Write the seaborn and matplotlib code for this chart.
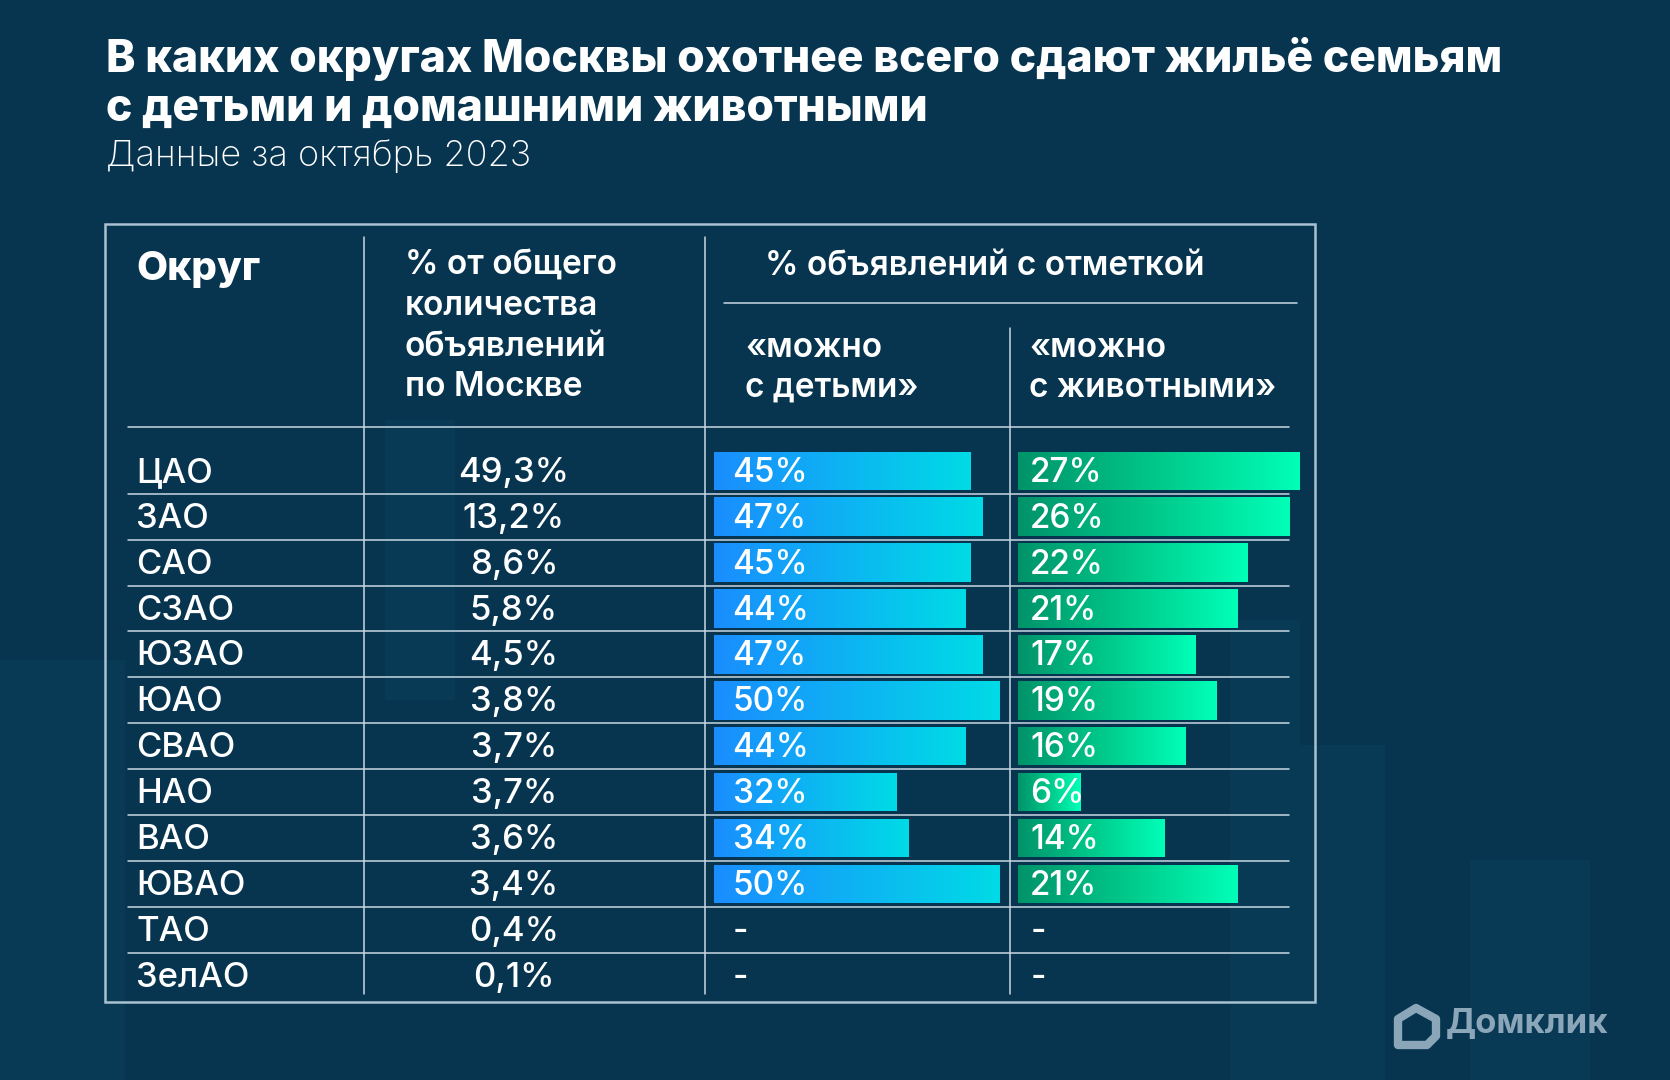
#!/usr/bin/env python3
"""
Table chart: rental listings in Moscow districts that allow kids / pets (Oct 2023).
"""
import numpy as np
import pandas as pd
import matplotlib.pyplot as plt
import seaborn as sns
from matplotlib.colors import LinearSegmentedColormap
from matplotlib.patches import Rectangle, Polygon

# Data
DISTRICTS = ['ЦАО', 'ЗАО', 'САО', 'СЗАО', 'ЮЗАО', 'ЮАО', 'СВАО', 'НАО', 'ВАО', 'ЮВАО', 'ТАО', 'ЗелАО']
SHARE = [49.3, 13.2, 8.6, 5.8, 4.5, 3.8, 3.7, 3.7, 3.6, 3.4, 0.4, 0.1]
KIDS = [45, 47, 45, 44, 47, 50, 44, 32, 34, 50, np.nan, np.nan]
PETS = [27, 26, 22, 21, 17, 19, 16, 6, 14, 21, np.nan, np.nan]

TITLE = ['В каких округах Москвы охотнее всего сдают жильё семьям',
         'с детьми и домашними животными']
SUBTITLE = 'Данные за октябрь 2023'

# Style
W, H = 1670, 1080
BG = '#073550'
LINE = '#c9d8e2'
WHITE = '#ffffff'
BLUE_CMAP = LinearSegmentedColormap.from_list('blue', ['#1a8dff', '#00dbe6'])
GREEN_CMAP = LinearSegmentedColormap.from_list('green', ['#00936a', '#00c98a', '#00ffb8'])
LOGO = '#8ba6b9'

ROW0, ROW_H = 470.8, 45.9
FS_HEAD = 24
FS_ROW = 25
FS_BAR = 24


def fig_rect(x0, y0, x1, y1):
    """Pixel box (top-left origin) -> figure fraction rect."""
    return [x0 / W, 1 - y1 / H, (x1 - x0) / W, (y1 - y0) / H]


def draw_background(ax):
    # faint skyline blocks
    blocks = [(0, 660, 125, H), (385, 420, 455, 700), (1230, 745, 1385, H),
              (1470, 860, 1590, H), (1230, 620, 1300, 745)]
    for x0, y0, x1, y1 in blocks:
        ax.add_patch(Rectangle((x0, y0), x1 - x0, y1 - y0, color='#0d4566', alpha=0.25, lw=0, zorder=0))


def draw_table(ax):
    # outer box
    ax.add_patch(Rectangle((105, 224), 1210, 778, fill=False, ec='#a9c1d0', lw=1.8, zorder=2))
    # column dividers
    for x, top in [(364, 237), (705, 237), (1010, 328)]:
        ax.plot([x, x], [top, 994], color=LINE, lw=1.1, zorder=2)
    ax.plot([724, 1297], [302.5, 302.5], color=LINE, lw=1.1, zorder=2)
    ax.plot([128, 1289], [427, 427], color=LINE, lw=1.1, zorder=2)
    for i in range(len(DISTRICTS) - 1):
        y = ROW0 + (i + 0.5) * ROW_H
        ax.plot([128, 1289], [y, y], color=LINE, lw=1.1, zorder=2)

    # headers
    ax.text(136, 270, 'Округ', color=WHITE, fontsize=29, fontweight='heavy', va='center')
    for k, line in enumerate(['% от общего', 'количества', 'объявлений', 'по Москве']):
        ax.text(405, 266 + k * 40.3, line, color=WHITE, fontsize=FS_HEAD, fontweight='semibold', va='center')
    ax.text(765, 266, '% объявлений с отметкой', color=WHITE, fontsize=FS_HEAD,
            fontweight='semibold', va='center')
    for k, line in enumerate(['«можно', 'с детьми»']):
        ax.text(745, 348 + k * 40, line, color=WHITE, fontsize=FS_HEAD, fontweight='semibold', va='center')
    for k, line in enumerate(['«можно', 'с животными»']):
        ax.text(1029, 348 + k * 40, line, color=WHITE, fontsize=FS_HEAD, fontweight='semibold', va='center')

    # rows
    for i, (name, share) in enumerate(zip(DISTRICTS, SHARE)):
        y = ROW0 + i * ROW_H + 2
        ax.text(136, y, name, color=WHITE, fontsize=FS_ROW, fontweight='medium', va='center')
        ax.text(514, y, f'{share:.1f}%'.replace('.', ','), color=WHITE, fontsize=FS_ROW,
                fontweight='medium', va='center', ha='center')


def draw_bars(fig, x0, width, px_per_pct, col, cmap, label_dx):
    top = ROW0 - ROW_H / 2
    bottom = ROW0 + (len(DISTRICTS) - 0.5) * ROW_H
    ax = fig.add_axes(fig_rect(x0, top, x0 + width, bottom))
    df = pd.DataFrame({'district': DISTRICTS, 'value': col}).dropna()
    sns.barplot(data=df, x='value', y='district', order=DISTRICTS, orient='h',
                width=0.84, ax=ax, color='white')
    grad = np.linspace(0, 1, 256).reshape(1, -1)
    for patch in list(ax.patches):
        bx, by = patch.get_x(), patch.get_y()
        bw, bh = patch.get_width(), patch.get_height()
        if not np.isfinite(bw) or bw == 0:
            continue
        im = ax.imshow(grad, cmap=cmap, extent=[bx, bx + bw, by + bh, by],
                       aspect='auto', interpolation='bicubic', zorder=2)
        im.set_clip_path(patch)
        patch.set_facecolor('none')
        patch.set_edgecolor('none')
    for i, v in enumerate(col):
        txt = '-' if np.isnan(v) else f'{int(v)}%'
        ax.annotate(txt, xy=(0, i), xytext=(label_dx, -2), textcoords='offset pixels',
                    color=WHITE, fontsize=FS_BAR, fontweight='medium', va='center', ha='left', zorder=3)
    ax.set_xlim(0, width / px_per_pct)
    ax.set_ylim(len(DISTRICTS) - 0.5, -0.5)
    ax.axis('off')
    ax.patch.set_alpha(0)
    return ax


def draw_logo(ax):
    ax.add_patch(Polygon([(1416, 1008), (1436, 1019), (1436, 1036), (1427, 1045),
                          (1398, 1045), (1398, 1019)], closed=True, fill=False,
                         ec=LOGO, lw=6, joinstyle='round', zorder=3))
    ax.text(1446, 1024, 'Домклик', color=LOGO, fontsize=25, fontweight='bold', va='center')


def main():
    sns.set_style('white')
    plt.rcParams['font.family'] = ['Inter', 'DejaVu Sans']

    fig = plt.figure(figsize=(W / 100, H / 100), dpi=100, facecolor=BG)
    ax_bg = fig.add_axes([0, 0, 1, 1])
    ax_bg.set_xlim(0, W)
    ax_bg.set_ylim(H, 0)
    ax_bg.axis('off')
    ax_bg.set_facecolor(BG)

    draw_background(ax_bg)

    # title block
    ax_bg.text(106, 59, TITLE[0], color=WHITE, fontsize=32, fontweight='heavy', va='center')
    ax_bg.text(106, 109, TITLE[1], color=WHITE, fontsize=32, fontweight='heavy', va='center')
    ax_bg.text(106, 156, SUBTITLE, color=WHITE, fontsize=26, fontweight='light', va='center')

    draw_table(ax_bg)
    draw_logo(ax_bg)

    draw_bars(fig, 713.6, 300, 5.71, KIDS, BLUE_CMAP, 19)
    draw_bars(fig, 1018.2, 290, 10.44, PETS, GREEN_CMAP, 12)

    fig.savefig('out.png', dpi=100, facecolor=BG)
    plt.close(fig)


if __name__ == '__main__':
    main()
